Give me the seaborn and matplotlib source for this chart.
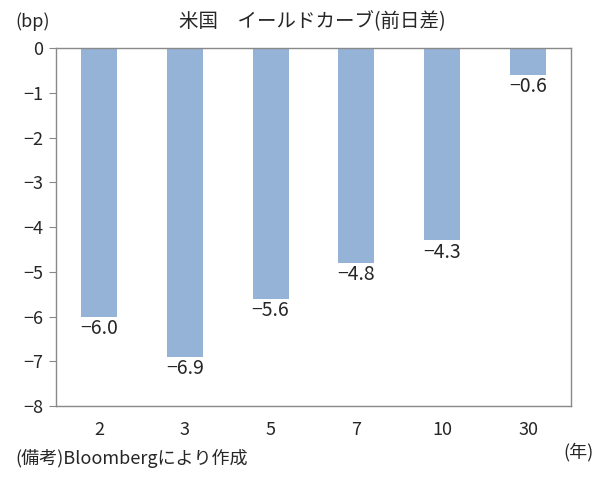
import matplotlib
matplotlib.use("Agg")
import matplotlib.pyplot as plt
import seaborn as sns
import pandas as pd

maturities = ["2", "3", "5", "7", "10", "30"]
changes = [-6.0, -6.9, -5.6, -4.8, -4.3, -0.6]
yticks = [0, -1, -2, -3, -4, -5, -6, -7, -8]

sns.set_style("white")
plt.rcParams['font.family'] = ['Noto Sans CJK JP', 'DejaVu Sans']

df = pd.DataFrame({"maturity": maturities, "change": changes})

fig = plt.figure(figsize=(6.01, 4.83), dpi=100)
ax = fig.add_axes([0.0932, 0.1594, 0.8568, 0.7412])
sns.barplot(data=df, x="maturity", y="change", color="#95B3D7", width=0.42,
            saturation=1, ax=ax, order=maturities, linewidth=0, edgecolor="none")

ax.set_ylim(-8, 0)
ax.set_xlim(-0.5, 5.5)
ax.set_yticks(yticks)
ax.set_yticklabels([str(t).replace("-", "\u2212") for t in yticks], fontsize=13)
ax.set_xticklabels(maturities, fontsize=13)
ax.tick_params(axis="y", which="both", left=True, length=5, color="#898989", pad=4)
ax.tick_params(axis="x", bottom=False, pad=7)
ax.set_xlabel("")
ax.set_ylabel("")
for s in ax.spines.values():
    s.set_color("#898989")
    s.set_linewidth(1.0)

for i, v in enumerate(changes):
    ax.text(i, v - 0.03, f"{v:.1f}".replace("-", "\u2212"), ha="center", va="top", fontsize=14)

fig.text(0.52, 0.955, "米国　イールドカーブ(前日差)", ha="center", va="center", fontsize=14)
fig.text(0.025, 0.955, "(bp)", ha="left", va="center", fontsize=13)
fig.text(0.025, 0.05, "(備考)Bloombergにより作成", ha="left", va="center", fontsize=13)
fig.text(0.988, 0.065, "(年)", ha="right", va="center", fontsize=13)

fig.savefig("out.png", dpi=100)
